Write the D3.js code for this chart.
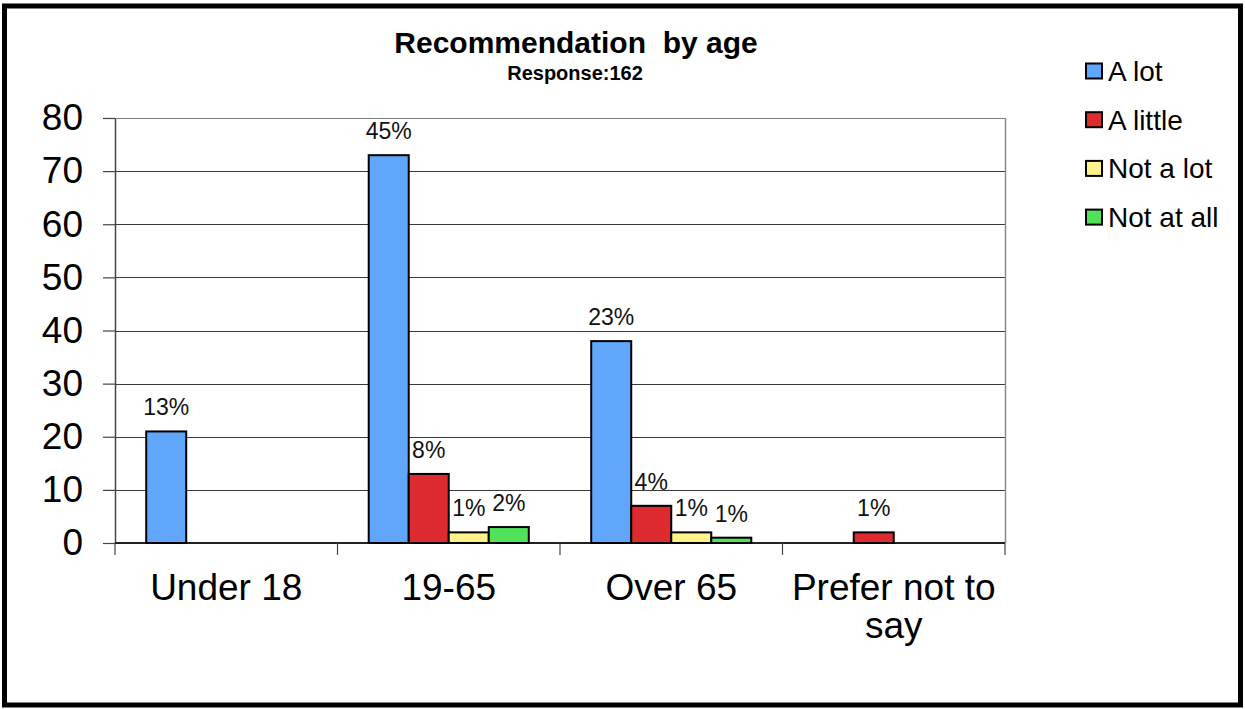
<!DOCTYPE html>
<html><head><meta charset="utf-8">
<script src="https://cdn.jsdelivr.net/npm/d3@7"></script>
<style>
html,body{margin:0;padding:0;background:#fff;}
svg{display:block;font-family:"Liberation Sans",Arial,sans-serif;}
</style></head>
<body>
<svg id="chart" width="1245" height="709"></svg>
<script>
const categories = ["Under 18", "19-65", "Over 65", "Prefer not to say"];
const series = ["A lot", "A little", "Not a lot", "Not at all"];
const colors = ["#60a6fb", "#dd2b30", "#fff38c", "#50e258"];
const aLot     = [21, 73, 38, 0];
const aLittle  = [0, 13, 7, 2];
const notALot  = [0, 2, 2, 0];
const notAtAll = [0, 3, 1, 0];
const pctALot     = ["13%", "45%", "23%", ""];
const pctALittle  = ["", "8%", "4%", "1%"];
const pctNotALot  = ["", "1%", "1%", ""];
const pctNotAtAll = ["", "2%", "1%", ""];
const yTicks = [0, 10, 20, 30, 40, 50, 60, 70, 80];
const title = "Recommendation  by age";
const subtitle = "Response:162";

const values = [aLot, aLittle, notALot, notAtAll];
const pcts = [pctALot, pctALittle, pctNotALot, pctNotAtAll];

const svg = d3.select("#chart");
// outer frame
svg.append("rect").attr("x", 4.5).attr("y", 6).attr("width", 1236).attr("height", 699)
  .attr("fill", "#fff").attr("stroke", "#000").attr("stroke-width", 5);

const pLeft = 115, pRight = 1005, pTop = 118, pBottom = 543;
const x0 = d3.scaleBand().domain(categories).range([pLeft, pRight]).paddingInner(0).paddingOuter(0);
const x1 = d3.scaleBand().domain(series).range([0, x0.bandwidth()]).paddingInner(0).paddingOuter(0.78);
const y = d3.scaleLinear().domain([0, 80]).range([pBottom, pTop]);

// gridlines
svg.append("g").selectAll("line").data(yTicks.filter(d => d > 0)).join("line")
  .attr("x1", pLeft).attr("x2", pRight)
  .attr("y1", d => Math.round(y(d)) + 0.5).attr("y2", d => Math.round(y(d)) + 0.5)
  .attr("stroke", d => d === 80 ? "#808080" : "#3a3a3a").attr("stroke-width", 1);
// right border
svg.append("line").attr("x1", pRight + 0.5).attr("x2", pRight + 0.5).attr("y1", pTop).attr("y2", pBottom)
  .attr("stroke", "#8a8a8a").attr("stroke-width", 1.5);

// y axis
const yAxis = svg.append("g").attr("transform", `translate(${pLeft},0)`)
  .call(d3.axisLeft(y).tickValues(yTicks).tickSize(12).tickPadding(20).tickSizeOuter(0));
yAxis.select(".domain").attr("stroke", "#444").attr("stroke-width", 1.5);
yAxis.selectAll(".tick line").attr("stroke", "#444").attr("stroke-width", 1.2);
yAxis.selectAll("text").attr("font-size", 37).attr("fill", "#000")
  .attr("font-family", "Liberation Sans, Arial, sans-serif");

// x axis (ticks between categories)
const xAxis = svg.append("g").attr("transform", `translate(0,${pBottom})`);
xAxis.append("line").attr("x1", pLeft).attr("x2", pRight).attr("y1", 0).attr("y2", 0)
  .attr("stroke", "#222").attr("stroke-width", 2);
const bounds = categories.map(c => x0(c)).concat([pRight]);
xAxis.selectAll(".tk").data(bounds).join("line").attr("class", "tk")
  .attr("x1", d => d).attr("x2", d => d).attr("y1", 0).attr("y2", 12)
  .attr("stroke", "#444").attr("stroke-width", 1.2);
const xl = xAxis.selectAll(".lbl").data(categories).join("text").attr("class", "lbl")
  .attr("x", d => x0(d) + x0.bandwidth() / 2).attr("y", 57)
  .attr("text-anchor", "middle").attr("font-size", 37).attr("fill", "#000");
xl.each(function(d) {
  const t = d3.select(this);
  const lines = d === "Prefer not to say" ? ["Prefer not to", "say"] : [d];
  lines.forEach((ln, i) => t.append("tspan").attr("x", x0(d) + x0.bandwidth() / 2).attr("dy", i === 0 ? 0 : 38).text(ln));
});

// bars
const groups = svg.append("g").selectAll("g").data(categories).join("g")
  .attr("transform", d => `translate(${x0(d)},0)`);
groups.each(function(cat, ci) {
  const g = d3.select(this);
  const data = series.map((s, si) => ({ s, si, v: values[si][ci], p: pcts[si][ci] }));
  g.selectAll("rect").data(data.filter(d => d.v > 0)).join("rect")
    .attr("x", d => x1(d.s)).attr("width", x1.bandwidth())
    .attr("y", d => y(d.v)).attr("height", d => y(0) - y(d.v))
    .attr("fill", d => colors[d.si]).attr("stroke", "#000").attr("stroke-width", 2);
  g.selectAll("text").data(data.filter(d => d.p)).join("text")
    .attr("x", d => x1(d.s) + x1.bandwidth() / 2).attr("y", d => y(d.v) - 16)
    .attr("text-anchor", "middle").attr("font-size", 23).attr("fill", "#111").text(d => d.p);
});

// title
svg.append("text").attr("x", 576).attr("y", 53).attr("text-anchor", "middle")
  .attr("font-size", 30).attr("font-weight", "bold").attr("fill", "#000")
  .style("white-space", "pre").text(title);
svg.append("text").attr("x", 575).attr("y", 80).attr("text-anchor", "middle")
  .attr("font-size", 20).attr("font-weight", "bold").attr("fill", "#000").text(subtitle);

// legend
const leg = svg.append("g").selectAll("g").data(series).join("g")
  .attr("transform", (d, i) => `translate(1086,${71 + i * 48.7})`);
leg.append("rect").attr("x", 0).attr("y", -7.5).attr("width", 16).attr("height", 15)
  .attr("fill", (d, i) => colors[i]).attr("stroke", "#000").attr("stroke-width", 2);
leg.append("text").attr("x", 22).attr("y", 10).attr("font-size", 28).attr("fill", "#000").text(d => d);
</script>
</body></html>
